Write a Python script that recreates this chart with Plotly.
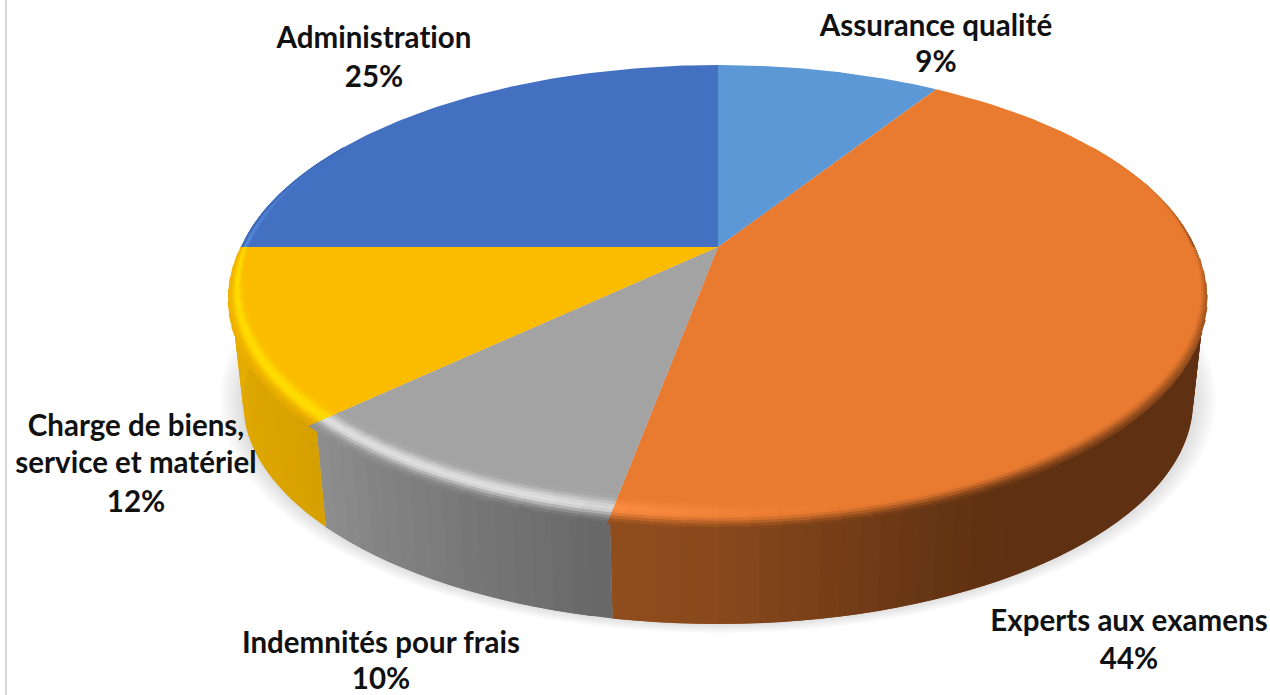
import numpy as np
import plotly.graph_objects as go

# ---- data ----
categories = ["Assurance qualité", "Experts aux examens", "Indemnités pour frais",
              "Charge de biens,<br>service et matériel", "Administration"]
values = [9.0, 43.9, 10.0, 12.1, 25.0]   # read from the slice boundaries; labels show them rounded

# ---- styles ----
top_colors = ["#5B98D5", "#E97B30", "#A3A3A3", "#FBBC00", "#4370C1"]
# wall colour at the start and the end of each slice (clockwise)
wall_colors = [("#5F3112", "#5F3112"), ("#5F3112", "#8F4C1D"), ("#676767", "#8E8E8E"),
               ("#D6A000", "#E8AE00"), ("#3A5FA5", "#3A5FA5")]
rim_high = ["#5B98D5", "#FF8F45", "#DEDEDE", "#FFDC00", "#5A8FE0"]
label_pos = [(936, [29, 65]), (1129, [624, 662]), (381, [646, 682]),
             (136, [429, 466, 505]), (374, [41, 80])]
W, H = 1270, 695
CX, CY, A, B, P = 718.0, 247.0, 477.0, 219.0, 0.2035
DROP, BOTTOM_SCALE = 109.0, 0.975


def hex2rgb(c):
    return np.array([int(c[i:i + 2], 16) for i in (1, 3, 5)], float)


def mix(c1, c2, t):
    return c1 + (c2 - c1) * t


def css(c):
    r, g, b = np.clip(np.round(c), 0, 255).astype(int)
    return f"rgb({r},{g},{b})"


def project(theta, r=1.0, scale=1.0, dy=0.0):
    """Disc plane (clockwise degrees from 12 o'clock, radius fraction) -> page pixels."""
    t = np.radians(theta)
    u, v = r * np.sin(t), r * np.cos(t)
    w = 1 + P * v
    return CX + scale * A * u / w, CY + dy + scale * B * (-v) / w


def smooth(a, b, x):
    t = np.clip((x - a) / (b - a), 0, 1)
    return t * t * (3 - 2 * t)


fig = go.Figure()


def poly(x, y, color):
    fig.add_trace(go.Scatter(
        x=x, y=y, mode="lines", fill="toself", fillcolor=color,
        line=dict(color=color, width=0),
        hoverinfo="skip", showlegend=False))


edges = np.concatenate([[0], np.cumsum(values)]) * 3.6

# soft shadow under the pie
th = np.linspace(0, 360, 181)
for i in range(12):
    grow = 1.05 - i * 0.0045
    xs, ys = project(th, 1.0, BOTTOM_SCALE * grow, DROP - 4 + (1.05 - grow) * 60)
    poly(list(xs), list(ys), "rgba(110,110,110,0.018)")

# side wall: each strip runs on under the next one, so no seams show
for k in range(5):
    a0, a1 = edges[k], edges[k + 1]
    lo, hi = max(a0, 70), min(a1, 285)
    if hi <= lo:
        continue
    c0, c1 = hex2rgb(wall_colors[k][0]), hex2rgb(wall_colors[k][1])
    grid = np.arange(lo, hi, 2.0)
    for t0 in grid:
        t1 = min(t0 + 4.0, hi)
        f = (t0 + 1.0 - a0) / (a1 - a0)
        if k == 1:
            f = smooth(0.73, 1.0, f)
        col = mix(c0, c1, f)
        tt = np.linspace(t0, t1, 4)
        xa, ya = project(tt)
        xb, yb = project(tt[::-1], 1.0, BOTTOM_SCALE, DROP)
        poly(list(xa) + list(xb), list(ya) + list(yb), css(col))

# top faces
for k in range(5):
    tt = np.linspace(edges[k], edges[k + 1], 90)
    xs, ys = project(tt)
    poly([CX] + list(xs) + [CX], [CY] + list(ys) + [CY], top_colors[k])

# bevel along the rim, blurred over the top of the wall at the front
LAYERS = 10
for k in range(5):
    a0, a1 = edges[k], edges[k + 1]
    lo, hi = max(a0, 60), min(a1, 300)
    if hi <= lo:
        continue
    base = hex2rgb(top_colors[k])
    high = hex2rgb(rim_high[k])
    w0, w1 = hex2rgb(wall_colors[k][0]), hex2rgb(wall_colors[k][1])
    for t0 in np.arange(lo, hi, 3.0):
        t1 = min(t0 + 6.0, hi)
        tm = t0 + 1.5
        front = max(0.0, -np.cos(np.radians(tm)))
        h = smooth(165, 200, tm) * (1 - smooth(262, 300, tm))
        d = smooth(62, 100, tm)
        f = (tm - a0) / (a1 - a0)
        if k == 1:
            f = smooth(0.73, 1.0, f)
        wall = mix(w0, w1, f)
        inset = 0.016 + 0.046 * front
        ext = 0.022 * front
        tt = np.linspace(t0, t1, 4)
        for j in range(LAYERS):
            s0, s1 = j / LAYERS, min((j + 2) / LAYERS, 1.0)   # 0 = outer edge, 1 = inner edge
            sm = (j + 0.5) / LAYERS
            bump = max(0.0, (np.exp(-((sm - 0.56) / 0.3) ** 2) - 0.14) / 0.86)
            col = mix(base, high, h * bump)
            col = mix(col, wall, (0.3 + 0.7 * front if tm > 90 else d) * d * (1 - smooth(0.0, 0.5, sm)))
            span = inset + ext
            xa, ya = project(tt, 1 + ext - span * s0)
            xb, yb = project(tt[::-1], 1 + ext - span * s1)
            poly(list(xa) + list(xb), list(ya) + list(yb), css(col))

# labels
for name, v, (lx, lys) in zip(categories, values, label_pos):
    lines = name.split("<br>") + [f"{round(v)}%"]
    fig.add_trace(go.Scatter(
        x=[lx] * len(lines), y=lys, text=lines, mode="text",
        textposition="middle center",
        textfont=dict(family="Lato", size=29.5, color="#111111", weight="bold"),
        hoverinfo="skip", showlegend=False))

fig.add_shape(type="line", x0=6, x1=6, y0=0, y1=H, line=dict(color="#C8C8C8", width=1.5), layer="below")

fig.update_layout(
    width=W, height=H, margin=dict(l=0, r=0, t=0, b=0),
    paper_bgcolor="white", plot_bgcolor="white", showlegend=False,
    xaxis=dict(range=[0, W], visible=False, fixedrange=True),
    yaxis=dict(range=[H, 0], visible=False, fixedrange=True),
)
fig.write_html(
    "out.html",
    config={"displayModeBar": False},
    post_script=("document.body.style.margin='0';document.body.style.overflow='hidden';"
                 "var s=document.createElement('style');"
                 "s.textContent='text{font-variant-ligatures:none!important;"
                 "font-feature-settings:\"liga\" 0,\"clig\" 0!important;letter-spacing:0.01px}';"
                 "document.head.appendChild(s);"),
)
